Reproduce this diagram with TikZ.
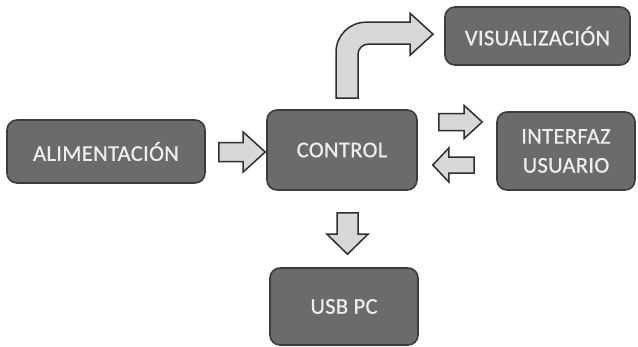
\documentclass[tikz,border=0pt]{standalone}
\usepackage{fontspec}
\setmainfont{Carlito}[LetterSpace=1.5, FakeBold=0.6]
\usetikzlibrary{calc}
\definecolor{boxfill}{HTML}{6B6B6B}
\definecolor{boxline}{HTML}{3C3C3C}
\definecolor{boxtext}{HTML}{EEEEEE}
\definecolor{arrowfill}{HTML}{D8D8D8}
\definecolor{arrowline}{HTML}{2E2E2E}
% straight block arrow: #1 tail, #2 tip, #3 shaft half width, #4 head half width, #5 head length
\newcommand{\blockarrow}[5]{%
  \coordinate (ba-t) at #1;
  \coordinate (ba-p) at #2;
  \coordinate (ba-h) at ($(ba-p)!#5!(ba-t)$);
  \draw[arrowbody]
    ($(ba-t)!#3!90:(ba-p)$) -- ($(ba-h)!#3!-90:(ba-t)$) -- ($(ba-h)!#4!-90:(ba-t)$)
    -- (ba-p) -- ($(ba-h)!#4!90:(ba-t)$) -- ($(ba-h)!#3!90:(ba-t)$)
    -- ($(ba-t)!#3!-90:(ba-p)$) -- cycle;
}
\begin{document}
\begin{tikzpicture}[x=1pt,y=-1pt,
  block/.style={draw=boxline, line width=1.6pt, fill=boxfill, rounded corners=10pt,
    text=boxtext, font=\fontsize{22.5}{29}\selectfont, align=center, inner sep=0pt},
  arrowbody/.style={draw=arrowline, line width=1.5pt, fill=arrowfill, line join=miter}]
\useasboundingbox[fill=white] (0,0) rectangle (638,346);

\node[block, minimum width=198pt, minimum height=63pt] (alim) at (106,151.5) {ALIMENTACIÓN};
\node[block, minimum width=150pt, minimum height=80pt] (ctrl) at (342,150) {CONTROL};
\node[block, minimum width=185pt, minimum height=58pt] (vis) at (537.5,36) {VISUALIZACIÓN};
\node[block, minimum width=138pt, minimum height=78pt] (iface) at (566,151) {INTERFAZ\\USUARIO};
\node[block, minimum width=148pt, minimum height=77pt] (usb) at (344,306.5) {USB PC};

% power supply feeds the controller
\blockarrow{($(alim.east)+(13,0.5)$)}{($(ctrl.west)+(-1,2)$)}{9.5pt}{20pt}{22pt}
% controller to user interface and back
\blockarrow{($(ctrl.east)+(21,-28)$)}{($(iface.west)+(-14,-29)$)}{8.5pt}{16.5pt}{18pt}
\blockarrow{($(iface.west)+(-22,14)$)}{($(ctrl.east)+(15,15)$)}{8pt}{17pt}{16pt}
% controller to USB link
\blockarrow{($(ctrl.south)+(5.5,22)$)}{($(usb.north)+(3.5,-13)$)}{10.5pt}{20.5pt}{20pt}

% bent arrow from the controller up to the display
\begin{scope}[shift={(ctrl.north)}]
\draw[arrowbody]
  (-6,-11) -- (-6,-57)
  .. controls (-6,-73.6) and (7.4,-87) .. (24,-87)
  -- (68,-87) -- (68,-96) -- (91,-75) -- (68,-54) -- (68,-65)
  -- (26,-65) .. controls (20.5,-65) and (16,-60.5) .. (16,-55)
  -- (16,-11) -- cycle;
\end{scope}
\end{tikzpicture}
\end{document}
